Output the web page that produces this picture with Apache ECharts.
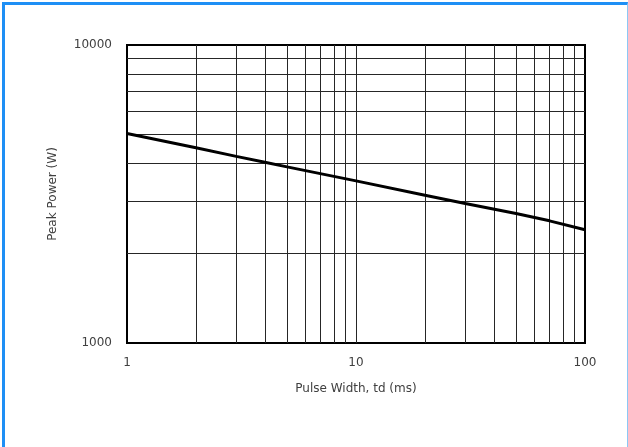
<!DOCTYPE html>
<html>
<head>
<meta charset="utf-8">
<script src="https://cdn.jsdelivr.net/npm/echarts@6/dist/echarts.min.js"></script>
<style>
html,body{margin:0;padding:0;background:#fff;}
#frame{position:absolute;left:2px;top:2px;width:626px;height:445px;border-top:3px solid #1e8ff5;border-left:3px solid #1e8ff5;border-right:1px solid #8cc8f5;box-sizing:border-box;}
#chart{position:absolute;left:0;top:0;width:628px;height:447px;}
</style>
</head>
<body>
<div id="frame"></div>
<div id="chart"></div>
<script>
// Pulse width (ms) vs peak power (W)
const pulseWidth = [1, 2, 3, 4, 5, 10, 20, 30, 50, 70, 100];
const peakPower = [5050, 4520, 4230, 4040, 3900, 3500, 3130, 2940, 2720, 2570, 2400];
const xGrid = [2, 3, 4, 5, 6, 7, 8, 9, 10, 20, 30, 40, 50, 60, 70, 80, 90];
const yGrid = [2000, 3000, 4000, 5000, 6000, 7000, 8000, 9000];
const xRange = [1, 100];
const yRange = [1000, 10000];

const chart = echarts.init(document.getElementById('chart'), null, {renderer: 'canvas'});
const font = 'DejaVu Sans';
const txt = '#404040';
const gridLines = xGrid.map(v => ({xAxis: v})).concat(yGrid.map(v => ({yAxis: v})));
chart.setOption({
  animation: false,
  backgroundColor: 'transparent',
  grid: {left: 127, right: 43, top: 45, bottom: 104, show: true, borderColor: '#000', borderWidth: 2, backgroundColor: 'transparent'},
  xAxis: {
    type: 'log', logBase: 10, min: xRange[0], max: xRange[1],
    name: 'Pulse Width, td (ms)', nameLocation: 'middle', nameGap: 40,
    nameTextStyle: {fontFamily: font, fontSize: 12, color: txt},
    axisLine: {show: false}, axisTick: {show: false},
    splitLine: {show: false},
    axisLabel: {fontFamily: font, fontSize: 12, color: txt, margin: 14, formatter: v => String(v)}
  },
  yAxis: {
    type: 'log', logBase: 10, min: yRange[0], max: yRange[1],
    name: 'Peak Power (W)', nameLocation: 'middle', nameGap: 68,
    nameTextStyle: {fontFamily: font, fontSize: 12, color: txt},
    axisLine: {show: false}, axisTick: {show: false},
    splitLine: {show: false},
    axisLabel: {fontFamily: font, fontSize: 12, color: txt, margin: 15, formatter: v => String(v)}
  },
  series: [{
    type: 'line',
    data: pulseWidth.map((x, i) => [x, peakPower[i]]),
    symbol: 'none',
    lineStyle: {color: '#000', width: 3},
    z: 5,
    markLine: {
      silent: true, symbol: 'none', animation: false,
      label: {show: false},
      lineStyle: {color: '#262626', width: 1, type: 'solid'},
      data: gridLines,
      z: 1
    }
  }]
});
</script>
</body>
</html>
